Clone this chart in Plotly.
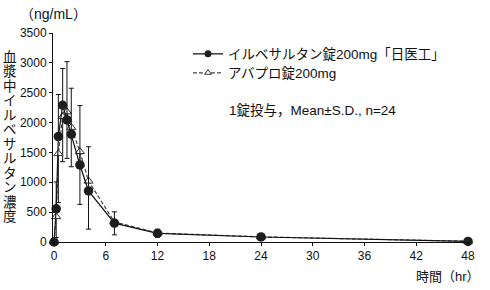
import plotly.graph_objects as go

# ---- data ----
time_hr = [0, 0.25, 0.5, 1, 1.5, 2, 3, 4, 7, 12, 24, 48]
irbesartan = [0, 555, 1765, 2290, 2045, 1805, 1290, 855, 315, 145, 84, 10]
irbesartan_sd = [0, 450, 705, 615, 975, 770, 995, 740, 190, 67, 15, 5]
avapro = [0, 425, 1480, 2100, 2180, 1920, 1515, 1020, 335, 150, 86, 12]
avapro_sd = [0, 350, 820, 755, 780, 660, 885, 805, 215, 70, 15, 5]
x_ticks = [0, 6, 12, 18, 24, 30, 36, 42, 48]
y_ticks = [0, 500, 1000, 1500, 2000, 2500, 3000, 3500]
name_irb = "イルベサルタン錠200mg「日医工」"
name_ava = "アバプロ錠200mg"
y_title = "血漿中イルベサルタン濃度"

W, H = 490, 290
L, R, T, B = 53, 470, 33, 242  # plot area in px
FONT = "Liberation Sans, Arial, Noto Sans CJK JP, sans-serif"

def px_x(p):
    return (p - L) / (R - L)

def px_y(p):
    return (B - p) / (B - T)

ava_line = dict(color="#444444", width=1.2, dash="4px,2px")
irb_line = dict(color="#111111", width=1.2)

fig = go.Figure()
fig.add_trace(go.Scatter(
    x=time_hr, y=avapro, name=name_ava, mode="lines+markers", showlegend=False,
    line=ava_line,
    marker=dict(symbol="triangle-up", size=8, color="white",
                line=dict(color="#333333", width=1)),
    error_y=dict(type="data", symmetric=False, array=[0] * len(avapro_sd),
                 arrayminus=avapro_sd, color="#111111", thickness=1, width=2.5),
    cliponaxis=False,
))
fig.add_trace(go.Scatter(
    x=time_hr, y=irbesartan, name=name_irb, mode="lines+markers", showlegend=False,
    line=irb_line,
    marker=dict(symbol="circle", size=9.5, color="#1e1e1e"),
    error_y=dict(type="data", symmetric=False, array=irbesartan_sd,
                 arrayminus=[0] * len(irbesartan_sd), color="#111111",
                 thickness=1, width=2.5),
    cliponaxis=False,
))
# legend-only entries (smaller symbols, as in the reference key)
fig.add_trace(go.Scatter(
    x=[None], y=[None], name=name_irb, mode="lines+markers", line=irb_line,
    marker=dict(symbol="circle", size=7, color="#1e1e1e"), legend="legend"))
fig.add_trace(go.Scatter(
    x=[None], y=[None], name=name_ava, mode="lines+markers", line=ava_line,
    marker=dict(symbol="triangle-up", size=6, color="white",
                line=dict(color="#333333", width=1)), legend="legend2"))

ann = []
n = len(y_title)
top_c, bot_c = 57.3, 216.7
for i, ch in enumerate(y_title):
    py = top_c + (bot_c - top_c) * i / (n - 1)
    ann.append(dict(text=ch, x=px_x(10), y=px_y(py), xref="paper", yref="paper",
                    showarrow=False, xanchor="center", yanchor="middle",
                    font=dict(size=13.5, color="#111111", family=FONT)))
ann.append(dict(text="（ng/mL）", x=px_x(18), y=px_y(14), xref="paper", yref="paper",
                showarrow=False, xanchor="left", yanchor="middle",
                font=dict(size=14, color="#111111", family=FONT)))
ann.append(dict(text="時間（hr）", x=px_x(482), y=px_y(276), xref="paper", yref="paper",
                showarrow=False, xanchor="right", yanchor="middle",
                font=dict(size=13, color="#111111", family=FONT)))
ann.append(dict(text="1錠投与，Mean±S.D., n=24", x=px_x(227), y=px_y(111), xref="paper",
                yref="paper", showarrow=False, xanchor="left", yanchor="middle",
                font=dict(size=13.5, color="#111111", family=FONT)))

leg_common = dict(xanchor="left", yanchor="middle", bgcolor="rgba(0,0,0,0)",
                  font=dict(size=13.5, family=FONT), itemwidth=30)

fig.update_layout(
    width=W, height=H,
    margin=dict(l=L, r=W - R, t=T, b=H - B, pad=0, autoexpand=False),
    paper_bgcolor="white", plot_bgcolor="white",
    font=dict(family=FONT, color="#111111", size=12),
    showlegend=True,
    legend=dict(x=px_x(188), y=px_y(54), **leg_common),
    legend2=dict(x=px_x(188), y=px_y(73), **leg_common),
    annotations=ann,
    xaxis=dict(range=[-0.12, 48.23], tickvals=x_ticks, ticktext=[str(v) for v in x_ticks],
               showgrid=False, zeroline=False, showline=True, linecolor="#111111",
               linewidth=1, ticks="outside", ticklen=3, tickcolor="#111111",
               tickfont=dict(size=12)),
    yaxis=dict(range=[0, 3500], tickvals=y_ticks, ticktext=[str(v) for v in y_ticks],
               showgrid=False, zeroline=False, showline=True, linecolor="#111111",
               linewidth=1, ticks="outside", ticklen=3, tickcolor="#111111",
               tickfont=dict(size=12)),
)

fig.write_html("out.html")
